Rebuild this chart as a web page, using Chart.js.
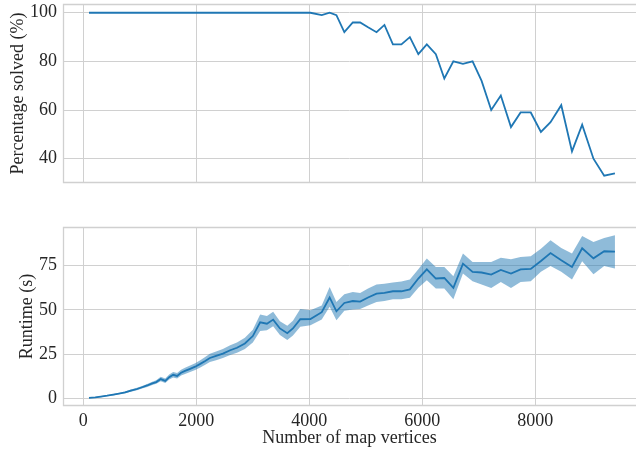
<!DOCTYPE html>
<html lang="en">
<head>
    <meta charset="UTF-8">
    <title>Percentage solved and runtime vs map vertices</title>
    <style>
        body, html {
            margin: 0;
            padding: 0;
            background: #fff;
        }
        .wrap {
            position: relative;
            width: 636px;
            height: 451px;
        }
        canvas {
            position: absolute;
            left: 0;
        }
        #solvedChart { top: 0; }
        #runtimeChart { top: 220px; }
    </style>
    <script src="https://cdn.jsdelivr.net/npm/chart.js"></script>
</head>
<body>
    <div class="wrap">
        <canvas id="solvedChart" width="636" height="190"></canvas>
        <canvas id="runtimeChart" width="636" height="231"></canvas>
    </div>

    <script>
        // map sizes (number of vertices), shared by both panels
        const vertices = [100, 210, 310, 420, 530, 630, 740, 840, 950, 1040, 1130, 1220, 1290, 1370, 1450,
            1520, 1590, 1660, 1730, 1800, 1890, 1980, 2070, 2150, 2240, 2350, 2470, 2600, 2720, 2860,
            3000, 3130, 3250, 3360, 3480, 3610, 3710, 3840, 4020, 4220, 4360, 4480, 4620, 4770, 4900,
            5040, 5190, 5330, 5480, 5630, 5780, 5930, 6080, 6240, 6390, 6550, 6720, 6890, 7050, 7220,
            7390, 7570, 7740, 7920, 8100, 8270, 8460, 8650, 8830, 9030, 9220, 9410];

        const percentSolved = [100, 100, 100, 100, 100, 100, 100, 100, 100, 100, 100, 100, 100, 100, 100,
            100, 100, 100, 100, 100, 100, 100, 100, 100, 100, 100, 100, 100, 100, 100,
            100, 100, 100, 100, 100, 100, 100, 100, 100, 99, 100, 99, 92, 96, 96,
            94, 92, 95, 87, 87, 90, 83, 87, 83, 73, 80, 79, 80, 72, 60,
            66, 53, 59, 59, 51, 55, 62, 43, 54, 40, 33, 34];

        const runtimeMean = [0.3, 0.6, 1.0, 1.5, 2.1, 2.7, 3.4, 4.4, 5.3, 6.3, 7.3, 8.5, 9.2, 10.9, 9.9,
            12.0, 13.3, 12.7, 14.5, 15.5, 16.7, 17.9, 19.5, 21.0, 22.8, 24.0, 25.3, 27.2, 28.6, 31.0,
            35.2, 43.0, 42.2, 44.5, 39.5, 36.8, 39.5, 44.7, 44.8, 48.7, 57.0, 49.2, 53.9, 55.0, 54.7,
            57.0, 59.2, 59.6, 60.5, 60.5, 61.6, 67.7, 72.9, 67.7, 68.0, 62.4, 76.1, 71.4, 71.1, 69.9,
            72.5, 70.5, 72.9, 73.1, 77.6, 82.1, 78.0, 74.2, 84.8, 79.1, 83.1, 82.9];

        const runtimeLow = [0.1, 0.4, 0.7, 1.2, 1.7, 2.3, 2.9, 3.8, 4.6, 5.6, 6.5, 7.6, 8.2, 9.7, 8.7,
            10.6, 11.8, 11.2, 12.9, 13.8, 14.9, 16.0, 17.4, 18.8, 20.5, 21.6, 22.8, 24.5, 25.8, 27.9,
            31.6, 38.0, 38.5, 40.8, 35.8, 33.0, 35.5, 40.4, 41.3, 44.5, 51.7, 44.2, 49.5, 50.2, 50.5,
            52.5, 54.5, 55.0, 56.0, 56.0, 56.8, 62.5, 66.7, 62.0, 62.0, 56.0, 70.5, 66.2, 64.3, 62.4,
            65.8, 62.4, 65.8, 66.2, 71.5, 74.8, 71.5, 67.1, 77.4, 70.1, 74.8, 73.3];

        const runtimeHigh = [0.5, 0.8, 1.3, 1.8, 2.5, 3.1, 3.9, 5.0, 6.0, 7.0, 8.1, 9.4, 10.3, 12.2, 11.3,
            13.5, 14.9, 14.3, 16.2, 17.3, 18.6, 19.9, 21.6, 23.3, 25.2, 26.5, 27.9, 30.0, 31.5, 34.2,
            38.8, 47.4, 46.5, 49.0, 43.5, 41.0, 43.8, 50.5, 49.8, 52.5, 62.9, 54.5, 58.8, 60.1, 59.5,
            62.0, 64.3, 64.8, 65.5, 66.0, 67.1, 73.0, 79.0, 74.2, 74.2, 69.0, 81.8, 77.0, 77.0, 77.0,
            79.5, 78.6, 79.9, 80.3, 84.5, 89.3, 85.0, 81.8, 91.7, 88.3, 90.6, 92.1];

        const xTicks = [0, 2000, 4000, 6000, 8000];
        const solvedTicks = [40, 60, 80, 100];
        const runtimeTicks = [0, 25, 50, 75];

        const blue = '#1f77b4';
        const bandColor = 'rgba(31, 119, 180, 0.5)';
        const gridColor = '#d0d0d0';
        const textColor = '#262626';
        const fontFamily = "'Liberation Serif', 'DejaVu Serif', serif";
        const fontSize = 18;

        const pts = arr => vertices.map((v, i) => ({ x: v, y: arr[i] }));
        const fixedTicks = list => function(scale) {
            scale.ticks = list.map(v => ({ value: v }));
        };
        // no extra room for overhanging tick labels, the plot box is set by hand
        const noOverhang = s => {
            s.paddingTop = 0;
            s.paddingBottom = 0;
            s.paddingLeft = 0;
            s.paddingRight = 0;
        };

        // draws the light frame (left, top, bottom) round the plot area
        const framePlugin = {
            id: 'frame',
            afterDraw(chart) {
                const a = chart.chartArea;
                const c = chart.ctx;
                c.save();
                c.strokeStyle = gridColor;
                c.lineWidth = 1.3;
                c.beginPath();
                c.moveTo(a.right + 2, a.top + 0.5);
                c.lineTo(a.left + 0.5, a.top + 0.5);
                c.lineTo(a.left + 0.5, a.bottom - 0.5);
                c.lineTo(a.right + 2, a.bottom - 0.5);
                c.stroke();
                c.restore();
            }
        };

        function xScale(showLabels, height) {
            return {
                type: 'linear',
                min: -360,
                max: 9783,
                afterBuildTicks: fixedTicks(xTicks),
                afterFit: s => { s.height = height; noOverhang(s); },
                border: { display: false },
                grid: { color: gridColor, lineWidth: 1, drawTicks: false },
                ticks: {
                    display: showLabels,
                    padding: 4,
                    color: textColor,
                    callback: v => String(v),
                    font: { family: fontFamily, size: fontSize }
                },
                title: {
                    display: showLabels,
                    text: 'Number of map vertices',
                    color: textColor,
                    padding: { top: 0, bottom: 2 },
                    font: { family: fontFamily, size: fontSize }
                }
            };
        }

        function yScale(min, max, ticks, label, titlePad) {
            return {
                min: min,
                max: max,
                afterBuildTicks: fixedTicks(ticks),
                afterFit: s => { s.width = 63; noOverhang(s); },
                border: { display: false },
                grid: { color: gridColor, lineWidth: 1, drawTicks: false },
                ticks: {
                    padding: 6,
                    color: textColor,
                    callback: v => String(v),
                    font: { family: fontFamily, size: fontSize }
                },
                title: {
                    display: true,
                    text: label,
                    color: textColor,
                    padding: { top: titlePad, bottom: 0 },
                    font: { family: fontFamily, size: fontSize }
                }
            };
        }

        const common = {
            responsive: false,
            animation: false,
            plugins: { legend: { display: false }, tooltip: { enabled: false } },
            elements: { point: { radius: 0 }, line: { tension: 0 } }
        };

        new Chart(document.getElementById('solvedChart').getContext('2d'), {
            type: 'line',
            data: {
                datasets: [{
                    data: pts(percentSolved),
                    borderColor: blue,
                    borderWidth: 1.8,
                    fill: false
                }]
            },
            options: Object.assign({}, common, {
                layout: { padding: { top: 4, left: 0, right: 0, bottom: 0 } },
                scales: {
                    x: xScale(false, 7),
                    y: yScale(30.0, 103.6, solvedTicks, 'Percentage solved (%)', 7)
                }
            }),
            plugins: [framePlugin]
        });

        new Chart(document.getElementById('runtimeChart').getContext('2d'), {
            type: 'line',
            data: {
                datasets: [{
                    data: pts(runtimeMean),
                    borderColor: blue,
                    borderWidth: 1.8,
                    fill: false
                }, {
                    data: pts(runtimeHigh),
                    borderWidth: 0,
                    borderColor: 'rgba(0,0,0,0)',
                    backgroundColor: bandColor,
                    fill: '+1'
                }, {
                    data: pts(runtimeLow),
                    borderWidth: 0,
                    borderColor: 'rgba(0,0,0,0)',
                    fill: false
                }]
            },
            options: Object.assign({}, common, {
                layout: { padding: { top: 7, left: 0, right: 0, bottom: 0 } },
                scales: {
                    x: xScale(true, 45),
                    y: yScale(-4.3, 96.8, runtimeTicks, 'Runtime (s)', 16)
                }
            }),
            plugins: [framePlugin]
        });
    </script>
</body>
</html>
